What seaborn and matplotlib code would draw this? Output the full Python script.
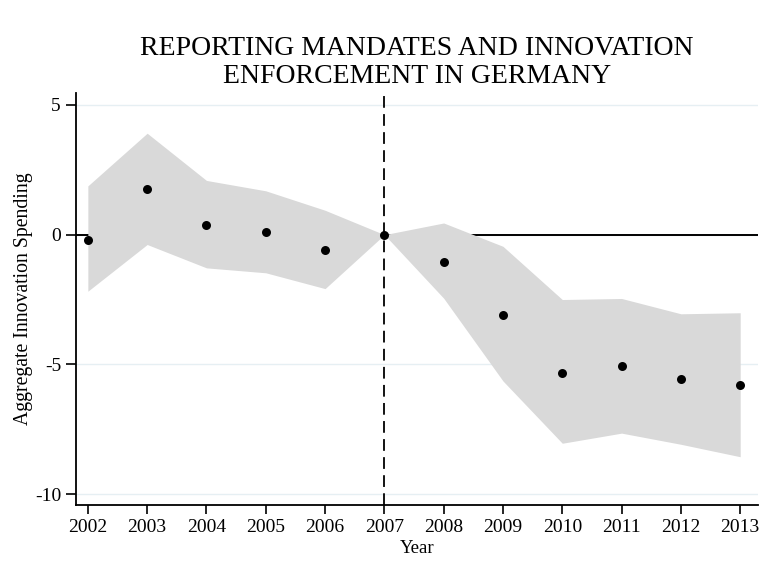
import matplotlib
matplotlib.use("Agg")
import matplotlib.pyplot as plt
import seaborn as sns
import pandas as pd

years = [2002, 2003, 2004, 2005, 2006, 2007, 2008, 2009, 2010, 2011, 2012, 2013]
estimate = [-0.22, 1.77, 0.38, 0.09, -0.59, 0.0, -1.05, -3.1, -5.32, -5.05, -5.58, -5.81]
ci_upper = [1.88, 3.91, 2.09, 1.69, 0.94, 0.0, 0.45, -0.45, -2.5, -2.46, -3.05, -3.01]
ci_lower = [-2.18, -0.38, -1.28, -1.47, -2.08, 0.0, -2.45, -5.64, -8.04, -7.65, -8.08, -8.56]
yticks = [5, 0, -5, -10]

df = pd.DataFrame({"Year": years, "est": estimate, "lo": ci_lower, "hi": ci_upper})

sns.set_style("white")
plt.rcParams["font.family"] = ["Liberation Serif", "DejaVu Serif"]
plt.rcParams["text.color"] = "black"
plt.rcParams["axes.labelcolor"] = "black"
plt.rcParams["xtick.color"] = "black"
plt.rcParams["ytick.color"] = "black"

fig = plt.figure(figsize=(7.65, 5.61), dpi=100)
ax = fig.add_axes([76/765, 1 - 505/561, (758 - 76)/765, (505 - 93)/561])

for t in yticks:
    ax.axhline(t, color="#e6eff3", lw=1.0, zorder=0)
ax.axhline(0, color="black", lw=1.4, zorder=1)
ax.fill_between(df["Year"], df["lo"], df["hi"], color="#d9d9d9", lw=0, zorder=2)
ax.axvline(2007, color="black", lw=1.3, ls=(0, (6.5, 3.5)), zorder=3)
sns.scatterplot(data=df, x="Year", y="est", ax=ax, color="black", s=42,
                edgecolor="black", linewidth=0, zorder=4)

ax.set_xlim(2001.8, 2013.3)
ax.set_ylim(-10.42, 5.46)
ax.set_xticks(years)
ax.set_xticklabels([str(y) for y in years], fontsize=14)
ax.set_yticks(yticks)
ax.set_yticklabels([str(t) for t in yticks], fontsize=14)
ax.tick_params(axis="x", direction="out", length=6.3, width=1.2, bottom=True, pad=4)
ax.tick_params(axis="y", direction="out", length=7.2, width=1.2, left=True, pad=3.6)
for s in ["top", "right"]:
    ax.spines[s].set_visible(False)
for s in ["left", "bottom"]:
    ax.spines[s].set_color("black")
    ax.spines[s].set_linewidth(1.3)

ax.set_xlabel("Year", fontsize=13.5, labelpad=3)
ax.set_ylabel("Aggregate Innovation Spending", fontsize=14.2, labelpad=1)
ax.set_title("REPORTING MANDATES AND INNOVATION\nENFORCEMENT IN GERMANY",
             fontsize=20, linespacing=1.16, pad=7.2)

fig.savefig("out.png", dpi=100)
